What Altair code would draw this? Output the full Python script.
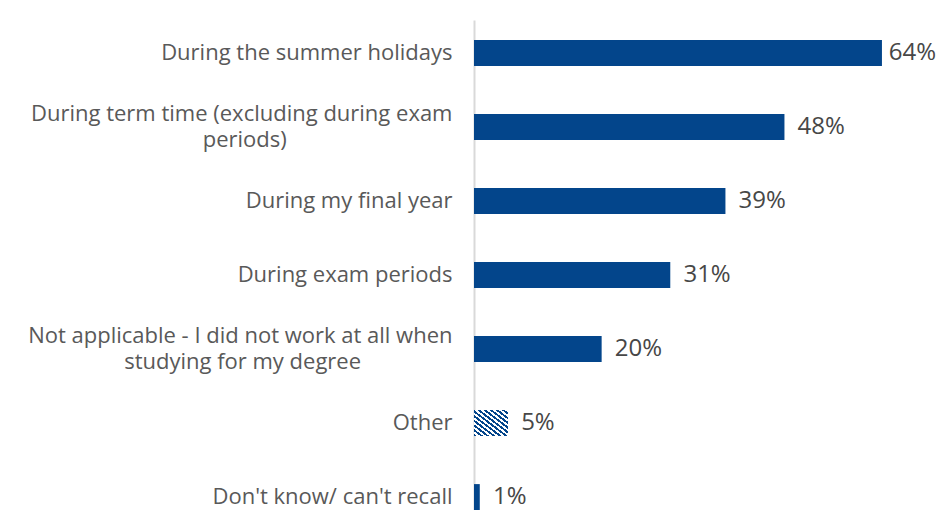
import altair as alt
import pandas as pd

NB = "\u00a0"
END = "\u200b"

categories = [
    "During the summer holidays",
    "During term time (excluding during exam|periods)" + NB * 29 + END,
    "During my final year",
    "During exam periods",
    "Not applicable - I did not work at all when|studying for my degree" + NB * 16 + END,
    "Other",
    "Don't know/ can't recall",
]
values = [63.6, 48.4, 39.2, 30.6, 19.9, 5.3, 0.9]
value_labels = ["64%", "48%", "39%", "31%", "20%", "5%", "1%"]
hatched = [False, False, False, False, False, True, False]

df = pd.DataFrame({
    "category": categories,
    "value": values,
    "label": value_labels,
    "hatched": hatched,
})

BLUE = "#03458B"
FONT = "Open Sans"

# diagonal stripe fill for the "Other" bar
n = 11
stops = []
for i in range(n):
    a = i / n
    m = (i + 0.5) / n
    b = (i + 1) / n
    stops += [
        {"offset": a, "color": BLUE},
        {"offset": m, "color": BLUE},
        {"offset": m, "color": "#ffffff"},
        {"offset": b, "color": "#ffffff"},
    ]
stripe = {"gradient": "linear", "x1": 0, "y1": 1, "x2": 1, "y2": 0, "stops": stops}

y_enc = alt.Y(
    "category:N",
    sort=categories,
    scale=alt.Scale(paddingInner=0.65, paddingOuter=0.1358, align=1),
    axis=alt.Axis(
        title=None,
        ticks=False,
        labelExpr="split(datum.label, '|')",
        labelFont=FONT,
        labelFontSize=22,
        labelColor="#595959",
        labelPadding=22,
        labelLimit=0,
        labelLineHeight=26,
        labelOffset={"condition": {"test": "indexof(datum.value, '|') >= 0", "value": -13}, "value": 0},
        domainColor="#d9d9d9",
        domainWidth=2,
        grid=False,
    ),
)
x_scale = alt.Scale(domain=[0, 70])
x_enc = alt.X("value:Q", scale=x_scale, axis=None)

base = alt.Chart(df)

solid = base.transform_filter("!datum.hatched").mark_bar(color=BLUE).encode(x=x_enc, y=y_enc)
striped = base.transform_filter("datum.hatched").mark_bar(color=stripe).encode(x=x_enc, y=y_enc)
# value labels sit just right of each bar; the longest one is tucked in a little so it stays on the page
text = base.transform_calculate(
    lx="datum.value + (datum.value > 60 ? 1.05 : 2.05)"
).mark_text(
    align="left", baseline="middle", font=FONT, fontSize=24, color="#474747"
).encode(x=alt.X("lx:Q", scale=x_scale, axis=None), y=y_enc, text="label:N")

chart = alt.layer(solid, striped, text).properties(
    width=449,
    height=490,
    autosize=alt.AutoSizeParams(type="none"),
    padding={"left": 466, "top": 12, "right": 15, "bottom": 0},
).configure_view(stroke=None)

chart.save("out.html", embed_options={"renderer": "svg", "actions": False})
